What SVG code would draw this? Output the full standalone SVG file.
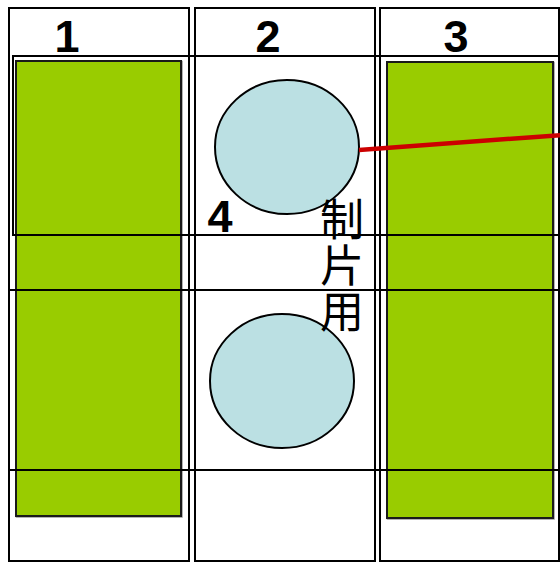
<svg xmlns="http://www.w3.org/2000/svg" width="560" height="563" viewBox="0 0 560 563">
<style>
.frame{fill:none;stroke:#000;stroke-width:2}
.green{fill:#99CC00;stroke:#1a1a1a;stroke-width:2}
.shadow{fill:none;stroke:#999;stroke-width:1.5}
.disc{fill:#BBE0E3;stroke:#000;stroke-width:2}
.num{font-family:"Liberation Sans",Arial,sans-serif;font-weight:bold;font-size:45px;fill:#000}
.cjk{font-family:"Noto Sans CJK SC","Noto Sans CJK JP",sans-serif;font-size:44px;fill:#000;writing-mode:vertical-rl;letter-spacing:2px}
</style>
<rect width="560" height="563" fill="#fff"/>
<g id="col1"><rect class="frame" x="9" y="8" width="180" height="553"/><text class="num" x="67" y="52" text-anchor="middle">1</text></g>
<g id="col2"><rect class="frame" x="195" y="8" width="180" height="553"/><text class="num" x="268" y="52" text-anchor="middle">2</text></g>
<g id="col3"><rect class="frame" x="380" y="8" width="179" height="553"/><text class="num" x="456" y="52" text-anchor="middle">3</text></g>
<g id="block1"><rect class="shadow" x="16.5" y="61.5" width="165.5" height="455.5"/><rect class="green" x="16" y="61" width="165" height="455"/></g>
<g id="block3"><rect class="shadow" x="387.5" y="62.5" width="166.5" height="456.5"/><rect class="green" x="387" y="62" width="166" height="456"/></g>
<g id="band1"><rect class="frame" x="13" y="56" width="560" height="179"/></g>
<g id="band2"><rect class="frame" x="9" y="290" width="564" height="180"/></g>
<g id="disc1"><ellipse class="disc" cx="287" cy="147" rx="72" ry="67"/></g>
<g id="disc2"><ellipse class="disc" cx="282" cy="381" rx="72" ry="67"/></g>
<g id="label4"><text class="num" x="220" y="232" text-anchor="middle">4</text></g>
<g id="label-cjk"><text class="cjk" x="342" y="197">制片用</text></g>
<g id="connectors"><line x1="359" y1="150" x2="562" y2="135" stroke="#CC0000" stroke-width="4.5"/></g>
</svg>
